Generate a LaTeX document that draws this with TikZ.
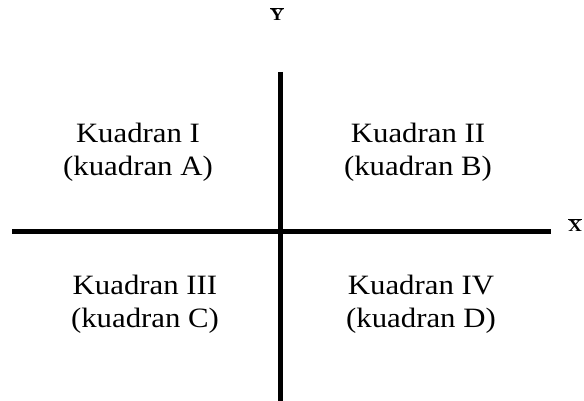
\documentclass[tikz,border=0pt]{standalone}
\usepackage{fontspec}
\setmainfont[FakeStretch=1.1]{Liberation Serif}
\newcommand{\barlbl}[1]{$\overline{\mbox{\bfseries #1}}$}
\begin{document}
\begin{tikzpicture}[x=1pt, y=1pt]

% Styles
\tikzstyle{quad}  = [align=center, anchor=base, font=\fontsize{28}{33}\selectfont, inner sep=0pt]
\tikzstyle{axis}  = [line width=5pt]
\tikzstyle{lbl}   = [font=\fontsize{17}{20}\selectfont, inner sep=0pt]

\useasboundingbox (0,0) rectangle (584,401);

% Axis ends
\coordinate (xl) at (12,169.5);
\coordinate (xr) at (551,169.5);
\coordinate (yt) at (280,329);
\coordinate (yb) at (280,0);

% Nodes
\node [quad] (q1) at (138,225) {Kuadran I\\(kuadran A)};
\node [quad] (q2) at (418,225) {Kuadran II\\(kuadran B)};
\node [quad] (q3) at (145,73) {Kuadran III\\(kuadran C)};
\node [quad] (q4) at (421,73) {Kuadran IV\\(kuadran D)};

\node [lbl] (ylab) at (277,387) {\barlbl{Y}};
\node [lbl] (xlab) at (575,176) {\barlbl{X}};

% Axes
\draw [axis] (xl) -- (xr);
\draw [axis] (yt) -- (yb);

\end{tikzpicture}
\end{document}
